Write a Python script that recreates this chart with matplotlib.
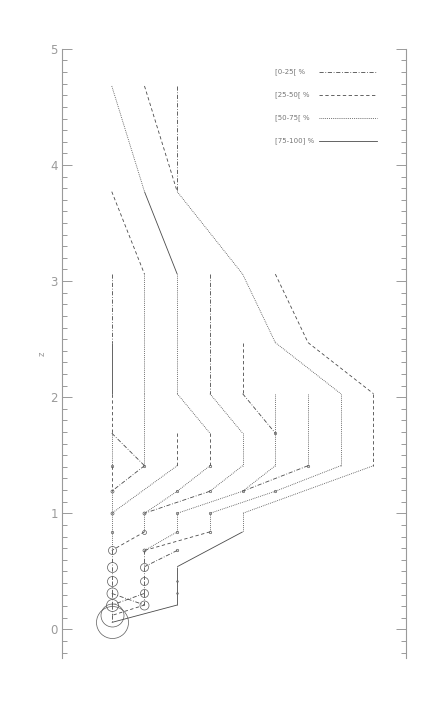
import matplotlib
matplotlib.use("Agg")
import matplotlib.pyplot as plt
from matplotlib.ticker import MultipleLocator

# ---------------- data ----------------
# mass-fraction classes (legend)
classes = ["[0-25[ %", "[25-50[ %", "[50-75[ %", "[75-100] %"]

# branch segments: start column, start z, end column, end z, class index
seg_c0 = [0, 1, 2, 1, 0, 2, 4, 5, 5, 6,
          0, 0, 0, 0, 0, 0, 0, 0, 0, 0, 0, 0, 0, 0,
          1, 1, 2, 2, 3, 3, 4, 4, 5, 5, 6, 7, 8, 4, 2, 3,
          0, 1, 2, 3, 4, 5, 6, 7, 8, 2, 3, 4, 5,
          1, 2, 3, 4, 1, 2, 3, 2, 4,
          1, 1, 1, 1, 0, 1, 1, 2, 2, 2, 2]
seg_z0 = [4.68, 4.68, 4.68, 3.77, 3.77, 3.77, 3.06, 2.47, 3.06, 2.47,
          3.06, 2.47, 2.03, 1.69, 1.41, 1.19, 1.00, 0.84, 0.68, 0.54, 0.42, 0.31, 0.21, 0.12,
          3.06, 2.03, 3.06, 2.03, 3.06, 2.03, 2.47, 2.03, 2.03, 1.69, 2.03, 2.03, 2.03, 1.69, 1.69, 1.69,
          1.69, 1.41, 1.41, 1.41, 1.41, 1.41, 1.41, 1.41, 1.41, 1.19, 1.19, 1.19, 1.19,
          1.00, 1.00, 1.00, 1.00, 0.84, 0.84, 0.84, 0.68, 0.84,
          0.68, 0.54, 0.42, 0.31, 0.31, 0.31, 0.21, 0.54, 0.42, 0.31, 0.21]
seg_c1 = [1, 2, 2, 2, 1, 4, 5, 7, 6, 8,
          0, 0, 0, 0, 0, 0, 0, 0, 0, 0, 0, 0, 0, 0,
          1, 1, 2, 3, 3, 4, 4, 5, 5, 5, 6, 7, 8, 4, 2, 3,
          1, 0, 0, 2, 3, 4, 4, 5, 4, 1, 1, 2, 3,
          1, 2, 3, 4, 0, 1, 1, 1, 2,
          1, 1, 1, 1, 1, 0, 0, 2, 2, 2, 0]
seg_z1 = [3.77, 3.77, 3.77, 3.06, 3.06, 3.06, 2.47, 2.03, 2.47, 2.03,
          2.47, 2.03, 1.69, 1.41, 1.19, 1.00, 0.84, 0.68, 0.54, 0.42, 0.31, 0.21, 0.12, 0.06,
          2.03, 1.41, 2.03, 1.69, 2.03, 1.69, 2.03, 1.69, 1.69, 1.41, 1.41, 1.41, 1.41, 1.41, 1.41, 1.41,
          1.41, 1.19, 1.00, 1.19, 1.19, 1.19, 1.19, 1.19, 1.00, 1.00, 1.00, 1.00, 1.00,
          0.84, 0.84, 0.84, 0.84, 0.68, 0.68, 0.68, 0.54, 0.54,
          0.54, 0.42, 0.31, 0.21, 0.21, 0.21, 0.12, 0.42, 0.31, 0.21, 0.06]
seg_cls = [2, 1, 0, 3, 1, 2, 2, 2, 1, 1,
           0, 3, 1, 2, 1, 2, 2, 2, 0, 0, 0, 0, 0, 0,
           2, 2, 2, 2, 0, 2, 1, 0, 2, 2, 2, 2, 1, 2, 1, 1,
           0, 0, 2, 2, 2, 2, 0, 2, 2, 2, 0, 2, 2,
           2, 2, 2, 2, 1, 2, 1, 0, 3,
           0, 0, 0, 0, 0, 0, 1, 3, 3, 3, 3]

# halo nodes (column, z, relative size)
node_c = [0, 0, 0, 0, 0, 0, 0, 1, 1, 1, 1, 1, 1,
          0, 0, 0, 0, 1, 1, 2, 2, 2, 2, 3, 3, 3, 3, 4, 5, 5, 6, 2, 2]
node_z = [0.68, 0.54, 0.42, 0.31, 0.21, 0.12, 0.06, 0.68, 0.54, 0.42, 0.31, 0.21, 0.84,
          1.41, 1.19, 1.00, 0.84, 1.41, 1.00, 1.19, 1.00, 0.84, 0.68, 1.41, 1.19, 1.00, 0.84,
          1.19, 1.69, 1.19, 1.41, 0.42, 0.31]
node_s = [4.0, 5.0, 5.0, 5.5, 6.0, 11.5, 16.0, 1.5, 4.0, 4.0, 4.0, 4.5, 2.0,
          1.2, 1.5, 1.5, 1.2, 1.2, 1.5, 1.2, 1.2, 1.2, 1.2, 1.2, 1.2, 1.2, 1.2,
          1.2, 1.2, 1.2, 1.2, 0.8, 0.8]

# ---------------- style ----------------
line_styles = [(0, (5, 2, 1, 2)), (0, (4, 3)), (0, (1, 1.3)), "-"]
ink = "#4a4a4a"
gray = "#9a9a9a"

fig = plt.figure(figsize=(4.25, 7.08), dpi=100)
ax = fig.add_axes([0.146, 0.070, 0.809, 0.861])

for c0, z0, c1, z1, k in zip(seg_c0, seg_z0, seg_c1, seg_z1, seg_cls):
    ax.plot([c0, c1], [z0, z1], color=ink, lw=0.6, ls=line_styles[k],
            dash_capstyle="butt", solid_capstyle="butt")

for c, z, s in zip(node_c, node_z, node_s):
    ax.plot([c], [z], marker="o", ms=2 * s * 0.72, mfc="none", mec="#5a5a5a", mew=0.5)

ax.set_xlim(-1.52, 8.99)
ax.set_ylim(-0.25, 5.0)

# axes decorations
for side in ("top", "bottom"):
    ax.spines[side].set_visible(False)
for side in ("left", "right"):
    ax.spines[side].set_color(gray)
    ax.spines[side].set_linewidth(0.8)
ax.set_xticks([])
ax.yaxis.set_major_locator(MultipleLocator(1))
ax.yaxis.set_minor_locator(MultipleLocator(0.1))
ax.tick_params(axis="y", which="both", direction="in", left=True, right=True,
               color=gray, width=0.7, labelcolor=gray, labelsize=8.5, pad=3)
ax.tick_params(axis="y", which="major", length=7)
ax.tick_params(axis="y", which="minor", length=3.5)
ax.set_ylabel("z", color=gray, fontsize=6, labelpad=3)

# legend drawn as text + line samples
for i, (lab, ls) in enumerate(zip(classes, line_styles)):
    y = 0.962 - 0.0375 * i
    ax.text(0.618, y, lab, transform=ax.transAxes, fontsize=5, color="#777777",
            va="center", ha="left")
    ax.plot([0.746, 0.917], [y, y], transform=ax.transAxes, color=ink, lw=0.6,
            ls=ls, dash_capstyle="butt")

fig.savefig("out.png", dpi=100)
